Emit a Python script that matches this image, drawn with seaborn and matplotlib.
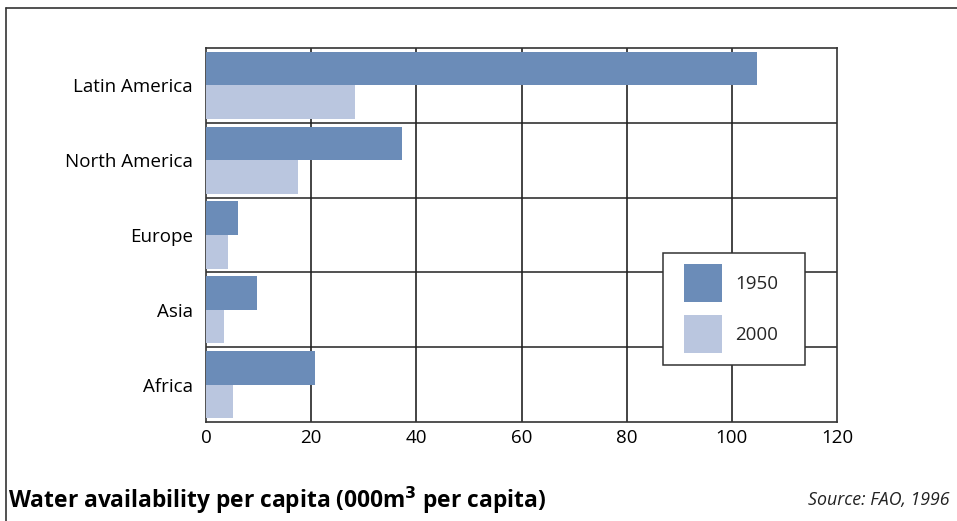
import matplotlib
matplotlib.use("Agg")
import matplotlib.pyplot as plt
import seaborn as sns
import pandas as pd
from matplotlib.lines import Line2D
from matplotlib.patches import Rectangle

regions = ["Latin America", "North America", "Europe", "Asia", "Africa"]
years = ["1950", "2000"]
values_1950 = [104.8, 37.3, 6.1, 9.7, 20.7]
values_2000 = [28.3, 17.5, 4.2, 3.4, 5.1]
x_ticks = [0, 20, 40, 60, 80, 100, 120]
colors = ["#6b8cb8", "#bac6df"]

df = pd.DataFrame({
    "region": regions * 2,
    "year": [years[0]] * len(regions) + [years[1]] * len(regions),
    "value": values_1950 + values_2000,
})

sns.set_theme(style="white")
plt.rcParams["font.family"] = ["Open Sans", "DejaVu Sans"]

fig = plt.figure(figsize=(9.57, 5.21), dpi=100)
ax = fig.add_axes([206/957, 1-422/521, (837-206)/957, (422-48)/521])

sns.barplot(data=df, y="region", x="value", hue="year", order=regions,
            hue_order=years, palette=colors, orient="h", width=0.9,
            saturation=1, ax=ax, zorder=3, linewidth=0)

ax.set_xlim(0, 120)
ax.set_ylim(len(regions) - 0.5, -0.5)
ax.set_xticks(x_ticks)
ax.set_xticklabels([str(t) for t in x_ticks], fontsize=13.5, color="black")
ax.set_yticklabels(regions, fontsize=13.5, color="black")
ax.set_xlabel("")
ax.set_ylabel("")
ax.tick_params(axis="x", length=0, pad=5)
ax.tick_params(axis="y", length=0, pad=9.5)

for xv in x_ticks[1:-1]:
    ax.axvline(xv, color="#111111", lw=1.1, zorder=1)
for i in range(1, len(regions)):
    ax.axhline(i - 0.5, color="#222222", lw=1.1, zorder=1)

for sp in ax.spines.values():
    sp.set_visible(True)
    sp.set_color("#333333")
    sp.set_linewidth(1.2)

# legend frame box
ax.add_patch(Rectangle(((663-206)/631, (422-365)/374), 142/631, 112/374,
                       transform=ax.transAxes, facecolor="white",
                       edgecolor="#333333", lw=1.1, zorder=4))

leg = ax.legend(loc="upper left", bbox_to_anchor=((684-206)/631, (422-264)/374),
                fontsize=13.5, frameon=False,
                handlelength=2.03, handleheight=2.746, labelspacing=0.69,
                handletextpad=0.69, borderpad=0, borderaxespad=0)
leg.set_zorder(5)

# outer frame lines (top and left)
fig.add_artist(Line2D([6/957, 1], [1-8/521, 1-8/521], color="#333333", lw=1.2))
fig.add_artist(Line2D([6/957, 6/957], [0, 1-8/521], color="#333333", lw=1.2))

fig.text(8/957, 1-500/521, "Water availability per capita (000m$^{\\mathbf{3}}$ per capita)",
         fontsize=16.4, fontweight="bold", va="center", ha="left", color="black")
fig.text(950/957, 1-500/521, "Source: FAO, 1996", fontsize=12.8, style="italic",
         va="center", ha="right", color="#222222")

fig.savefig("out.png", dpi=100)
